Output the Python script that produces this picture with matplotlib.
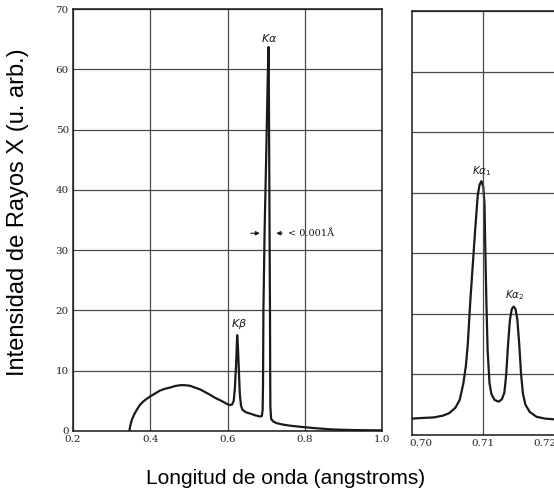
import numpy as np
import matplotlib
matplotlib.use('Agg')
import matplotlib.pyplot as plt

# espectro completo (panel izquierdo)
wl_full = [0.346, 0.348, 0.352, 0.358, 0.365, 0.373, 0.382, 0.390, 0.399, 0.412,
           0.425, 0.438, 0.451, 0.464, 0.477, 0.490, 0.503, 0.516, 0.529, 0.542,
           0.555, 0.568, 0.581, 0.590, 0.598, 0.606, 0.612, 0.616, 0.619, 0.622,
           0.624, 0.625, 0.627, 0.629, 0.632, 0.635, 0.639, 0.648, 0.658, 0.672,
           0.684, 0.689, 0.691, 0.692, 0.693, 0.696, 0.700, 0.704, 0.706, 0.7068,
           0.708, 0.709, 0.710, 0.7105, 0.711, 0.713, 0.718, 0.727, 0.745, 0.760,
           0.788, 0.830, 0.873, 0.930, 1.000]
int_full = [0.0, 0.8, 1.8, 2.7, 3.5, 4.3, 4.9, 5.3, 5.7, 6.2,
            6.7, 7.0, 7.2, 7.45, 7.6, 7.6, 7.5, 7.2, 6.9, 6.45,
            6.0, 5.5, 5.1, 4.8, 4.5, 4.3, 4.4, 5.0, 7.0, 10.7,
            14.0, 15.9, 14.0, 10.7, 6.0, 4.2, 3.5, 3.1, 2.9, 2.6,
            2.4, 2.5, 3.5, 8.0, 20.0, 33.0, 45.0, 58.0, 63.7, 61.0,
            45.0, 32.0, 20.0, 10.0, 4.0, 2.0, 1.6, 1.3, 1.05, 0.9,
            0.7, 0.45, 0.25, 0.15, 0.1]

# detalle del doblete K-alfa (panel derecho)
wl_zoom = [0.6985, 0.7000, 0.7020, 0.7035, 0.7045, 0.7055, 0.7062, 0.7068, 0.7072,
           0.7075, 0.7079, 0.7083, 0.7087, 0.7091, 0.7094, 0.7097, 0.7100, 0.7102,
           0.7103, 0.7105, 0.7107, 0.7110, 0.7113, 0.7118, 0.7125, 0.7130, 0.7134,
           0.7137, 0.7140, 0.7143, 0.7146, 0.7149, 0.7152, 0.7155, 0.7158, 0.7161,
           0.7164, 0.7168, 0.7175, 0.7186, 0.7200, 0.7227]
int_zoom = [2.7, 2.8, 2.9, 3.2, 3.6, 4.5, 5.8, 8.6, 11.5,
            15.0, 22.0, 28.0, 34.0, 39.5, 41.3, 41.9, 41.0, 38.0,
            32.0, 22.0, 14.0, 8.6, 6.8, 5.8, 5.5, 5.9, 7.0,
            10.0, 15.0, 19.0, 20.8, 21.2, 20.8, 19.0, 15.0, 10.0,
            6.8, 5.0, 3.8, 3.0, 2.7, 2.5]

xticks_full = [0.2, 0.4, 0.6, 0.8, 1.0]
xticks_zoom = [0.70, 0.71, 0.72]
yticks = [0, 10, 20, 30, 40, 50, 60, 70]

W, H = 554, 493
fig = plt.figure(figsize=(W / 100, H / 100), dpi=100)

tickfont = dict(family='DejaVu Serif', size=7.5, color='#222222')
ink = '#1a1a1a'
gridc = '#4a4a4a'

ax1 = fig.add_axes([73 / W, (H - 431) / H, 309 / W, 422 / H])
ax1.plot(wl_full, int_full, color=ink, lw=1.6, solid_joinstyle='round')
ax1.set_xlim(0.2, 1.0)
ax1.set_ylim(0, 70)
ax1.set_xticks(xticks_full)
ax1.set_xticklabels(['%.1f' % v for v in xticks_full], fontdict=tickfont)
ax1.set_yticks(yticks)
ax1.set_yticklabels([str(v) for v in yticks], fontdict=tickfont)
ax1.grid(True, color=gridc, lw=0.9)
ax1.tick_params(length=0, pad=3)

ax1.text(0.707, 64.2, r'$K\alpha$', ha='center', va='bottom', fontsize=8,
         family='DejaVu Serif', color=ink)
ax1.text(0.630, 16.6, r'$K\beta$', ha='center', va='bottom', fontsize=8,
         family='DejaVu Serif', color=ink)
ax1.annotate('', xy=(0.691, 32.8), xytext=(0.653, 32.8),
             arrowprops=dict(arrowstyle='-|>', color=ink, lw=0.8, mutation_scale=6))
ax1.annotate('', xy=(0.719, 32.8), xytext=(0.749, 32.8),
             arrowprops=dict(arrowstyle='-|>', color=ink, lw=0.8, mutation_scale=6))
ax1.text(0.756, 32.8, '< 0.001Å', ha='left', va='center', fontsize=7,
         family='DejaVu Serif', color=ink)

ax2 = fig.add_axes([412 / W, (H - 435) / H, 150 / W, 424 / H])
ax2.plot(wl_zoom, int_zoom, color=ink, lw=1.6, solid_joinstyle='round')
ax2.set_xlim(0.6985, 0.7227)
ax2.set_ylim(0, 70)
ax2.set_xticks(xticks_zoom)
ax2.set_xticklabels(['%.2f' % v for v in xticks_zoom], fontdict=tickfont)
ax2.set_yticks(yticks)
ax2.set_yticklabels([])
ax2.grid(True, axis='y', color=gridc, lw=0.9)
ax2.axvline(0.71, color=gridc, lw=0.9)
ax2.tick_params(length=0, pad=3)
ax2.spines['right'].set_visible(False)

ax2.text(0.7097, 42.5, r'$K\alpha_1$', ha='center', va='bottom', fontsize=7.5,
         family='DejaVu Serif', color=ink)
ax2.text(0.7150, 21.9, r'$K\alpha_2$', ha='center', va='bottom', fontsize=7.5,
         family='DejaVu Serif', color=ink)

for ax in (ax1, ax2):
    for s in ax.spines.values():
        s.set_color(ink)
        s.set_linewidth(1.1)

fig.text(18 / W, 1 - 212 / H, 'Intensidad de Rayos X (u. arb.)', rotation=90,
         ha='center', va='center', fontsize=17, family='Liberation Sans')
fig.text(286 / W, 1 - 479 / H, 'Longitud de onda (angstroms)',
         ha='center', va='center', fontsize=15, family='Liberation Sans')

fig.savefig('out.png', dpi=100)
